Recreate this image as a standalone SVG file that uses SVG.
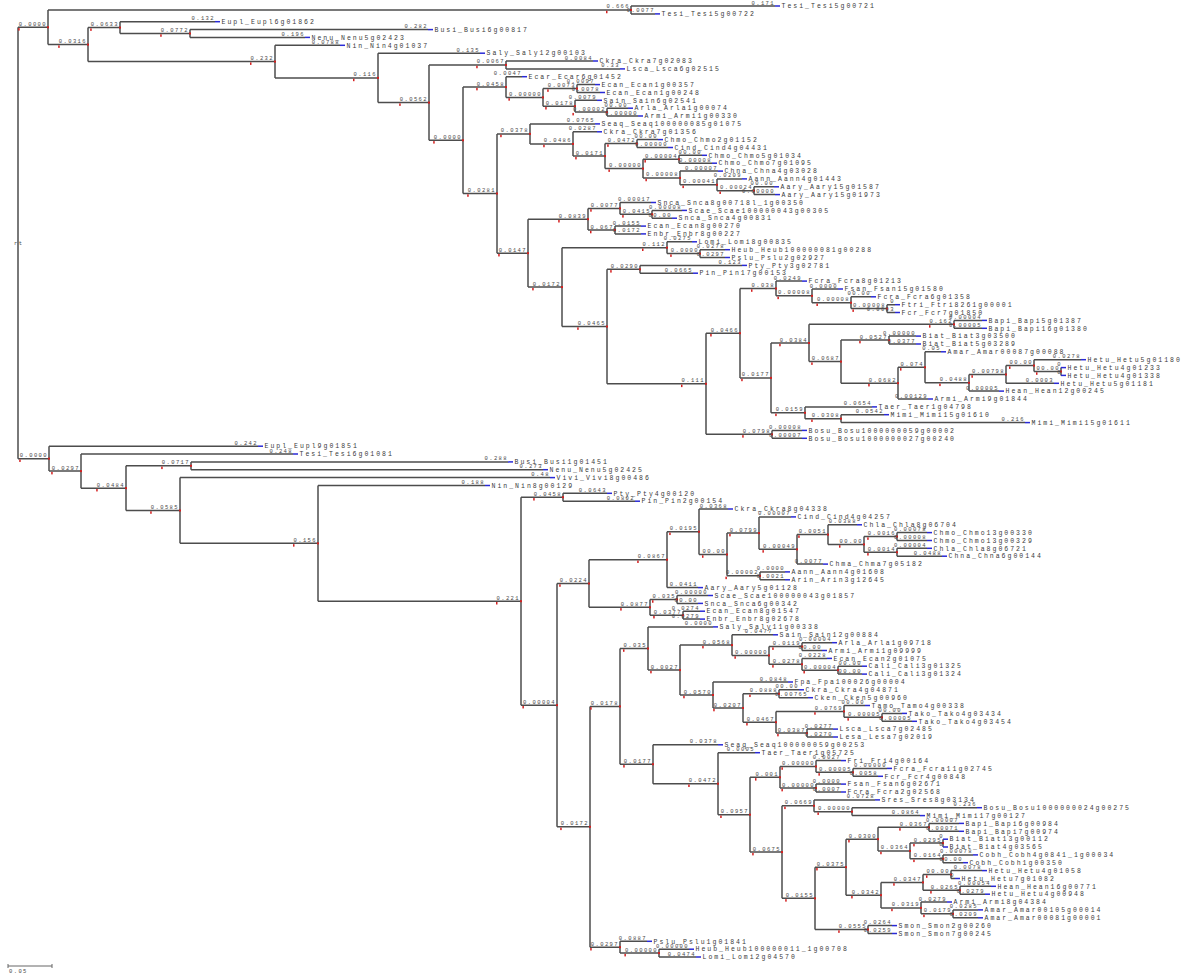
<svg xmlns="http://www.w3.org/2000/svg" width="1200" height="976" viewBox="0 0 1200 976">
<style>
.c{fill:none;stroke:#4d4d4d;stroke-width:1.5}
.tp{fill:none;stroke:#2a2ad6;stroke-width:1.5}
.lf{font-family:"Liberation Mono",monospace;font-size:6.5px;letter-spacing:2px;fill:#3a3a3a}
.bl{font-family:"Liberation Mono",monospace;font-size:5.5px;letter-spacing:1.4px;fill:#4a4a4a;text-anchor:end}
.rd{fill:#d42020;width:1.5px;height:2.5px}
.rj{fill:#d42020;width:2px;height:2px}
</style>
<rect width="1200" height="976" fill="#fff"/>
<g id="connectors" class="c">
<path d="M18 27.3V458.65M48 9.95V44.6M631 6V13.9M88 27.6V61.6M120 21.7V33.5M190 29.6V37.4M275 45.3V77.9M378 53.2V102.6M429 64.95V140.3M506 61V68.9M463 87.05V193.5M506 76.7V97.4M543 88.55V106.2M577 84.6V92.5M575 100.3V112.1M607 108.2V116M497 133.9V253.15M530 123.9V143.95M573 131.8V156.1M605 143.55V168.6M637 139.6V147.5M643 159.25V177.95M679 155.3V163.2M680 171.1V184.8M717 178.9V190.7M754 186.8V194.6M528 219.2V287.1M588 208.4V230M620 202.5V214.3M652 210.4V218.2M615 226.1V233.9M562 247.7V326.55M667 241.8V253.6M700 249.7V257.5M607 269.3V383.8M640 265.4V273.2M706 333.2V434.35M740 288.5V377.9M776 281.1V295.85M812 289V302.7M851 296.8V308.6M887 304.7V312.5M771 343V412.8M809 324.35V361.6M954 320.4V328.3M841 340.05V383.15M889 336.1V344M898 367.3V399M925 351.8V382.8M969 374.45V391.1M1006 365.6V383.3M1034 359.7V371.5M1061 367.6V375.4M805 406.9V418.65M841 414.7V422.6M772 430.4V438.3"/>
<path d="M49 446.2V471.1M81 454V488.15M126 465.8V510.5M191 461.9V469.7M180 477.6V543.35M318 485.5V601.2M521 497.25V705.15M563 493.3V501.2M557 583.5V826.8M589 559.7V607.3M667 531.75V587.6M699 509V554.5M727 533.1V575.85M759 516.9V549.35M797 534.6V564.1M828 524.8V544.4M864 536.55V552.25M897 532.6V540.5M897 548.3V556.2M760 571.9V579.8M650 599.45V615.15M677 595.5V603.4M683 611.2V619.1M590 706.4V947.2M620 648.5V764.25M648 626.9V670.05M680 645.1V695M732 634.8V655.45M769 646.6V664.3M802 642.7V650.5M802 658.4V670.15M838 666.2V674.1M713 682V708M743 693.75V722.2M779 689.8V697.7M776 711.4V733.05M844 705.5V717.35M882 713.4V721.3M807 729.1V737M653 744.8V783.7M718 752.7V814.7M750 777.3V852.1M780 766.5V788.05M816 760.6V772.35M853 768.4V776.3M816 784.1V792M782 805.8V898.35M814 799.9V811.65M852 807.7V815.6M815 867.15V929.55M846 839.15V895.15M878 827.35V850.95M929 823.4V831.3M910 843.1V858.8M943 839.2V847M943 854.9V862.7M881 882.4V907.9M923 874.55V890.25M951 870.6V878.5M960 886.3V894.2M921 902V913.85M953 909.9V917.8M868 925.6V933.5M620 941.3V953.1M659 949.2V957"/>
<path d="M18 27.3H48M48 9.95H631M48 44.6H88M88 27.6H120M120 33.5H190M88 61.6H275M275 77.9H378M378 102.6H429M429 64.95H506M429 140.3H463M463 87.05H506M506 97.4H543M543 88.55H577M543 106.2H575M575 112.1H607M463 193.5H497M497 133.9H530M530 143.95H573M573 156.1H605M605 143.55H637M605 168.6H643M643 159.25H679M643 177.95H680M680 184.8H717M717 190.7H754M497 253.15H528M528 219.2H588M588 208.4H620M620 214.3H652M588 230H615M528 287.1H562M562 247.7H667M667 253.6H700M562 326.55H607M607 269.3H640M607 383.8H706M706 333.2H740M740 288.5H776M776 295.85H812M812 302.7H851M851 308.6H887M740 377.9H771M771 343H809M809 324.35H954M809 361.6H841M841 340.05H889M841 383.15H898M898 367.3H925M925 382.8H969M969 374.45H1006M1006 365.6H1034M1034 371.5H1061M771 412.8H805M805 418.65H841M706 434.35H772"/>
<path d="M18 458.65H49M49 471.1H81M81 488.15H126M126 465.8H191M126 510.5H180M180 543.35H318M318 601.2H521M521 497.25H563M521 705.15H557M557 583.5H589M589 559.7H667M667 531.75H699M699 554.5H727M727 533.1H759M759 549.35H797M797 534.6H828M828 544.4H864M864 536.55H897M864 552.25H897M727 575.85H760M589 607.3H650M650 599.45H677M650 615.15H683M557 826.8H590M590 706.4H620M620 648.5H648M648 670.05H680M680 645.1H732M732 655.45H769M769 646.6H802M769 664.3H802M802 670.15H838M680 695H713M713 708H743M743 693.75H779M743 722.2H776M776 711.4H844M844 717.35H882M776 733.05H807M620 764.25H653M653 783.7H718M718 814.7H750M750 777.3H780M780 766.5H816M816 772.35H853M780 788.05H816M750 852.1H782M782 805.8H814M814 811.65H852M782 898.35H815M815 867.15H846M846 839.15H878M878 827.35H929M878 850.95H910M910 843.1H943M910 858.8H943M846 895.15H881M881 882.4H923M923 874.55H951M923 890.25H960M881 907.9H921M921 913.85H953M815 929.55H868M590 947.2H620M620 953.1H659"/>
<path d="M631 6H775M631 13.9H655M120 21.7H215M190 29.6H428M190 37.4H305M275 45.3H340M378 53.2H480M506 61H593M506 68.9H620M506 76.7H522M577 84.6H595M577 92.5H600M575 100.3H597M607 108.2H628M607 116H638M530 123.9H595M573 131.8H597M637 139.6H658M637 147.5H668M679 155.3H702M679 163.2H712M680 171.1H718M717 178.9H742M754 186.8H774M754 194.6H775M620 202.5H651M652 210.4H682M652 218.2H672M615 226.1H641M615 233.9H641M667 241.8H692M700 249.7H725M700 257.5H725M640 265.4H742M640 273.2H693M776 281.1H802M812 289H838M851 296.8H871M887 304.7H895M887 312.5H895M954 320.4H982M954 328.3H982M889 336.1H916M889 344H916M925 351.8H941M1034 359.7H1081M1006 383.3H1054M969 391.1H999M898 399H928M805 406.9H872M841 414.7H884M841 422.6H1025M772 430.4H802M772 438.3H802"/>
<path d="M49 446.2H258M81 454H293M191 461.9H508M191 469.7H543M180 477.6H550M318 485.5H485M563 493.3H607M563 501.2H635M699 509H728M759 516.9H791M828 524.8H857M897 532.6H927M897 540.5H927M897 548.3H927M897 556.2H942M797 564.1H823M760 571.9H785M760 579.8H785M667 587.6H698M677 595.5H708M677 603.4H698M683 611.2H700M683 619.1H700M648 626.9H713M732 634.8H773M802 642.7H832M802 650.5H822M802 658.4H827M838 666.2H862M838 674.1H862M713 682H788M779 689.8H799M779 697.7H808M844 705.5H865M882 713.4H902M882 721.3H912M807 729.1H833M807 737H833M653 744.8H718M718 752.7H755M816 760.6H841M853 768.4H887M853 776.3H878M816 784.1H841M816 792H841M814 799.9H875M852 807.7H977M852 815.6H920M929 823.4H959M929 831.3H959M943 854.9H973M943 862.7H963M951 870.6H982M951 878.5H955M960 886.3H991M960 894.2H985M921 902H947M953 909.9H978M953 917.8H978M868 925.6H892M868 933.5H892M620 941.3H647M659 949.2H689M659 957H696"/>
</g>
<g id="root"><text class="bl" x="14" y="245" style="text-anchor:start">rt</text></g>
<g id="nU"><text class="bl" x="47" y="25.8">0.0000</text><rect class="rd" x="18.2" y="28.1"/><rect class="rj" x="47" y="26.3"/></g>
<g id="nT"><text class="bl" x="630" y="8.45">0.666</text><rect class="rd" x="606" y="10.75"/><rect class="rj" x="630" y="8.95"/></g>
<g id="nA"><text class="bl" x="87" y="43.1">0.0316</text><rect class="rd" x="58.2" y="45.4"/><rect class="rj" x="87" y="43.6"/></g>
<g id="nB"><text class="bl" x="119" y="26.1">0.0633</text><rect class="rd" x="90.2" y="28.4"/><rect class="rj" x="119" y="26.6"/></g>
<g id="nD"><text class="bl" x="189" y="32">0.0772</text><rect class="rd" x="160.2" y="34.3"/><rect class="rj" x="189" y="32.5"/></g>
<g id="nC"><text class="bl" x="274" y="60.1">0.232</text><rect class="rd" x="250" y="62.4"/><rect class="rj" x="274" y="60.6"/></g>
<g id="nE"><text class="bl" x="377" y="76.4">0.116</text><rect class="rd" x="353" y="78.7"/><rect class="rj" x="377" y="76.9"/></g>
<g id="nF"><text class="bl" x="428" y="101.1">0.0562</text><rect class="rd" x="399.2" y="103.4"/><rect class="rj" x="428" y="101.6"/></g>
<g id="nG"><text class="bl" x="505" y="63.45">0.0067</text><rect class="rd" x="476.2" y="65.75"/><rect class="rj" x="505" y="63.95"/></g>
<g id="nH"><text class="bl" x="462" y="138.8">0.0000</text><rect class="rd" x="433.2" y="141.1"/><rect class="rj" x="462" y="139.3"/></g>
<g id="nI"><text class="bl" x="505" y="85.55">0.0458</text><rect class="rd" x="476.2" y="87.85"/><rect class="rj" x="505" y="86.05"/></g>
<g id="nI2"><text class="bl" x="542" y="95.9">0.00000</text><rect class="rd" x="508.4" y="98.2"/><rect class="rj" x="542" y="96.4"/></g>
<g id="nI3"><text class="bl" x="576" y="87.05">0.0073</text><rect class="rd" x="547.2" y="89.35"/><rect class="rj" x="576" y="87.55"/></g>
<g id="nI4"><text class="bl" x="574" y="104.7">0.0178</text><rect class="rd" x="545.2" y="107"/><rect class="rj" x="574" y="105.2"/></g>
<g id="nI5"><text class="bl" x="606" y="110.6">0.00002</text><rect class="rd" x="572.4" y="112.9"/><rect class="rj" x="606" y="111.1"/></g>
<g id="nJ"><text class="bl" x="496" y="192">0.0281</text><rect class="rd" x="467.2" y="194.3"/><rect class="rj" x="496" y="192.5"/></g>
<g id="nK"><text class="bl" x="529" y="132.4">0.0378</text><rect class="rd" x="500.2" y="134.7"/><rect class="rj" x="529" y="132.9"/></g>
<g id="nK2"><text class="bl" x="572" y="142.45">0.0486</text><rect class="rd" x="543.2" y="144.75"/><rect class="rj" x="572" y="142.95"/></g>
<g id="nK3"><text class="bl" x="604" y="154.6">0.0171</text><rect class="rd" x="575.2" y="156.9"/><rect class="rj" x="604" y="155.1"/></g>
<g id="nK4"><text class="bl" x="636" y="142.05">0.0472</text><rect class="rd" x="607.2" y="144.35"/><rect class="rj" x="636" y="142.55"/></g>
<g id="nK5"><text class="bl" x="642" y="167.1">0.00000</text><rect class="rd" x="608.4" y="169.4"/><rect class="rj" x="642" y="167.6"/></g>
<g id="nK6"><text class="bl" x="678" y="157.75">0.00004</text><rect class="rd" x="644.4" y="160.05"/><rect class="rj" x="678" y="158.25"/></g>
<g id="nK7"><text class="bl" x="679" y="176.45">0.00008</text><rect class="rd" x="645.4" y="178.75"/><rect class="rj" x="679" y="176.95"/></g>
<g id="nK8"><text class="bl" x="716" y="183.3">0.00041</text><rect class="rd" x="682.4" y="185.6"/><rect class="rj" x="716" y="183.8"/></g>
<g id="nK9"><text class="bl" x="753" y="189.2">0.00024</text><rect class="rd" x="719.4" y="191.5"/><rect class="rj" x="753" y="189.7"/></g>
<g id="nM"><text class="bl" x="527" y="251.65">0.0147</text><rect class="rd" x="498.2" y="253.95"/><rect class="rj" x="527" y="252.15"/></g>
<g id="nN"><text class="bl" x="587" y="217.7">0.0839</text><rect class="rd" x="558.2" y="220"/><rect class="rj" x="587" y="218.2"/></g>
<g id="nN1"><text class="bl" x="619" y="206.9">0.0077</text><rect class="rd" x="590.2" y="209.2"/><rect class="rj" x="619" y="207.4"/></g>
<g id="nN3"><text class="bl" x="651" y="212.8">0.0415</text><rect class="rd" x="622.2" y="215.1"/><rect class="rj" x="651" y="213.3"/></g>
<g id="nN2"><text class="bl" x="614" y="228.5">0.067</text><rect class="rd" x="590" y="230.8"/><rect class="rj" x="614" y="229"/></g>
<g id="nO"><text class="bl" x="561" y="285.6">0.0172</text><rect class="rd" x="532.2" y="287.9"/><rect class="rj" x="561" y="286.1"/></g>
<g id="nO1"><text class="bl" x="666" y="246.2">0.112</text><rect class="rd" x="642" y="248.5"/><rect class="rj" x="666" y="246.7"/></g>
<g id="nO2"><text class="bl" x="699" y="252.1">0.0000</text><rect class="rd" x="670.2" y="254.4"/><rect class="rj" x="699" y="252.6"/></g>
<g id="nP"><text class="bl" x="606" y="325.05">0.0465</text><rect class="rd" x="577.2" y="327.35"/><rect class="rj" x="606" y="325.55"/></g>
<g id="nP1"><text class="bl" x="639" y="267.8">0.0290</text><rect class="rd" x="610.2" y="270.1"/><rect class="rj" x="639" y="268.3"/></g>
<g id="nQ"><text class="bl" x="705" y="382.3">0.111</text><rect class="rd" x="681" y="384.6"/><rect class="rj" x="705" y="382.8"/></g>
<g id="nR"><text class="bl" x="739" y="331.7">0.0466</text><rect class="rd" x="710.2" y="334"/><rect class="rj" x="739" y="332.2"/></g>
<g id="nS"><text class="bl" x="775" y="287">0.038</text><rect class="rd" x="751" y="289.3"/><rect class="rj" x="775" y="287.5"/></g>
<g id="nT2"><text class="bl" x="811" y="294.35">0.00008</text><rect class="rd" x="777.4" y="296.65"/><rect class="rj" x="811" y="294.85"/></g>
<g id="nU2"><text class="bl" x="850" y="301.2">0.00008</text><rect class="rd" x="816.4" y="303.5"/><rect class="rj" x="850" y="301.7"/></g>
<g id="nV2"><text class="bl" x="886" y="307.1">0.00008</text><rect class="rd" x="852.4" y="309.4"/><rect class="rj" x="886" y="307.6"/></g>
<g id="nW"><text class="bl" x="770" y="376.4">0.0177</text><rect class="rd" x="741.2" y="378.7"/><rect class="rj" x="770" y="376.9"/></g>
<g id="nX"><text class="bl" x="808" y="341.5">0.0384</text><rect class="rd" x="779.2" y="343.8"/><rect class="rj" x="808" y="342"/></g>
<g id="nY"><text class="bl" x="953" y="322.85">0.162</text><rect class="rd" x="929" y="325.15"/><rect class="rj" x="953" y="323.35"/></g>
<g id="nZ"><text class="bl" x="840" y="360.1">0.0687</text><rect class="rd" x="811.2" y="362.4"/><rect class="rj" x="840" y="360.6"/></g>
<g id="nZ1"><text class="bl" x="888" y="338.55">0.0527</text><rect class="rd" x="859.2" y="340.85"/><rect class="rj" x="888" y="339.05"/></g>
<g id="nAA"><text class="bl" x="897" y="381.65">0.0682</text><rect class="rd" x="868.2" y="383.95"/><rect class="rj" x="897" y="382.15"/></g>
<g id="nAB"><text class="bl" x="924" y="365.8">0.074</text><rect class="rd" x="900" y="368.1"/><rect class="rj" x="924" y="366.3"/></g>
<g id="nAC"><text class="bl" x="968" y="381.3">0.0488</text><rect class="rd" x="939.2" y="383.6"/><rect class="rj" x="968" y="381.8"/></g>
<g id="nAD"><text class="bl" x="1005" y="372.95">0.00798</text><rect class="rd" x="971.4" y="375.25"/><rect class="rj" x="1005" y="373.45"/></g>
<g id="nAE"><text class="bl" x="1033" y="364.1">00.00</text><rect class="rd" x="1009" y="366.4"/><rect class="rj" x="1033" y="364.6"/></g>
<g id="nAF"><text class="bl" x="1060" y="370">00.00</text><rect class="rd" x="1036" y="372.3"/><rect class="rj" x="1060" y="370.5"/></g>
<g id="nWW"><text class="bl" x="804" y="411.3">0.0159</text><rect class="rd" x="775.2" y="413.6"/><rect class="rj" x="804" y="411.8"/></g>
<g id="nWX"><text class="bl" x="840" y="417.15">0.0308</text><rect class="rd" x="811.2" y="419.45"/><rect class="rj" x="840" y="417.65"/></g>
<g id="nBO"><text class="bl" x="771" y="432.85">0.0798</text><rect class="rd" x="742.2" y="435.15"/><rect class="rj" x="771" y="433.35"/></g>
<g id="nL"><text class="bl" x="48" y="457.15">0.0000</text><rect class="rd" x="19.2" y="459.45"/><rect class="rj" x="48" y="457.65"/></g>
<g id="nL1"><text class="bl" x="80" y="469.6">0.0297</text><rect class="rd" x="51.2" y="471.9"/><rect class="rj" x="80" y="470.1"/></g>
<g id="nL2"><text class="bl" x="125" y="486.65">0.0484</text><rect class="rd" x="96.2" y="488.95"/><rect class="rj" x="125" y="487.15"/></g>
<g id="nL3"><text class="bl" x="190" y="464.3">0.0717</text><rect class="rd" x="161.2" y="466.6"/><rect class="rj" x="190" y="464.8"/></g>
<g id="nL4"><text class="bl" x="179" y="509">0.0585</text><rect class="rd" x="150.2" y="511.3"/><rect class="rj" x="179" y="509.5"/></g>
<g id="nL5"><text class="bl" x="317" y="541.85">0.156</text><rect class="rd" x="293" y="544.15"/><rect class="rj" x="317" y="542.35"/></g>
<g id="nL6"><text class="bl" x="520" y="599.7">0.221</text><rect class="rd" x="496" y="602"/><rect class="rj" x="520" y="600.2"/></g>
<g id="nL7"><text class="bl" x="562" y="495.75">0.0458</text><rect class="rd" x="533.2" y="498.05"/><rect class="rj" x="562" y="496.25"/></g>
<g id="nL8"><text class="bl" x="556" y="703.65">0.00004</text><rect class="rd" x="522.4" y="705.95"/><rect class="rj" x="556" y="704.15"/></g>
<g id="nM1"><text class="bl" x="588" y="582">0.0224</text><rect class="rd" x="559.2" y="584.3"/><rect class="rj" x="588" y="582.5"/></g>
<g id="nM3"><text class="bl" x="666" y="558.2">0.0867</text><rect class="rd" x="637.2" y="560.5"/><rect class="rj" x="666" y="558.7"/></g>
<g id="nM5"><text class="bl" x="698" y="530.25">0.0195</text><rect class="rd" x="669.2" y="532.55"/><rect class="rj" x="698" y="530.75"/></g>
<g id="nM6"><text class="bl" x="726" y="553">00.00</text><rect class="rd" x="702" y="555.3"/><rect class="rj" x="726" y="553.5"/></g>
<g id="nM7"><text class="bl" x="758" y="531.6">0.0799</text><rect class="rd" x="729.2" y="533.9"/><rect class="rj" x="758" y="532.1"/></g>
<g id="nM9"><text class="bl" x="796" y="547.85">0.00049</text><rect class="rd" x="762.4" y="550.15"/><rect class="rj" x="796" y="548.35"/></g>
<g id="nM10"><text class="bl" x="827" y="533.1">0.0051</text><rect class="rd" x="798.2" y="535.4"/><rect class="rj" x="827" y="533.6"/></g>
<g id="nM11"><text class="bl" x="863" y="542.9">00.00</text><rect class="rd" x="839" y="545.2"/><rect class="rj" x="863" y="543.4"/></g>
<g id="nM12"><text class="bl" x="896" y="535.05">0.0016</text><rect class="rd" x="867.2" y="537.35"/><rect class="rj" x="896" y="535.55"/></g>
<g id="nM13"><text class="bl" x="896" y="550.75">0.0014</text><rect class="rd" x="867.2" y="553.05"/><rect class="rj" x="896" y="551.25"/></g>
<g id="nM8"><text class="bl" x="759" y="574.35">0.00002</text><rect class="rd" x="725.4" y="576.65"/><rect class="rj" x="759" y="574.85"/></g>
<g id="nM4"><text class="bl" x="649" y="605.8">0.0877</text><rect class="rd" x="620.2" y="608.1"/><rect class="rj" x="649" y="606.3"/></g>
<g id="nM14"><text class="bl" x="676" y="597.95">0.035</text><rect class="rd" x="652" y="600.25"/><rect class="rj" x="676" y="598.45"/></g>
<g id="nM15"><text class="bl" x="682" y="613.65">0.0377</text><rect class="rd" x="653.2" y="615.95"/><rect class="rj" x="682" y="614.15"/></g>
<g id="nM2"><text class="bl" x="589" y="825.3">0.0172</text><rect class="rd" x="560.2" y="827.6"/><rect class="rj" x="589" y="825.8"/></g>
<g id="nM16"><text class="bl" x="619" y="704.9">0.0178</text><rect class="rd" x="590.2" y="707.2"/><rect class="rj" x="619" y="705.4"/></g>
<g id="nM18"><text class="bl" x="647" y="647">0.035</text><rect class="rd" x="623" y="649.3"/><rect class="rj" x="647" y="647.5"/></g>
<g id="nM20"><text class="bl" x="679" y="668.55">0.0027</text><rect class="rd" x="650.2" y="670.85"/><rect class="rj" x="679" y="669.05"/></g>
<g id="nM21"><text class="bl" x="731" y="643.6">0.0568</text><rect class="rd" x="702.2" y="645.9"/><rect class="rj" x="731" y="644.1"/></g>
<g id="nM23"><text class="bl" x="768" y="653.95">0.00000</text><rect class="rd" x="734.4" y="656.25"/><rect class="rj" x="768" y="654.45"/></g>
<g id="nM24"><text class="bl" x="801" y="645.1">0.0119</text><rect class="rd" x="772.2" y="647.4"/><rect class="rj" x="801" y="645.6"/></g>
<g id="nM25"><text class="bl" x="801" y="662.8">0.0278</text><rect class="rd" x="772.2" y="665.1"/><rect class="rj" x="801" y="663.3"/></g>
<g id="nM26"><text class="bl" x="837" y="668.65">0.00004</text><rect class="rd" x="803.4" y="670.95"/><rect class="rj" x="837" y="669.15"/></g>
<g id="nM22"><text class="bl" x="712" y="693.5">0.0570</text><rect class="rd" x="683.2" y="695.8"/><rect class="rj" x="712" y="694"/></g>
<g id="nM27"><text class="bl" x="742" y="706.5">0.0207</text><rect class="rd" x="713.2" y="708.8"/><rect class="rj" x="742" y="707"/></g>
<g id="nM28"><text class="bl" x="778" y="692.25">0.0888</text><rect class="rd" x="749.2" y="694.55"/><rect class="rj" x="778" y="692.75"/></g>
<g id="nM29"><text class="bl" x="775" y="720.7">0.0467</text><rect class="rd" x="746.2" y="723"/><rect class="rj" x="775" y="721.2"/></g>
<g id="nM30"><text class="bl" x="843" y="709.9">0.0769</text><rect class="rd" x="814.2" y="712.2"/><rect class="rj" x="843" y="710.4"/></g>
<g id="nM32"><text class="bl" x="881" y="715.85">0.00005</text><rect class="rd" x="847.4" y="718.15"/><rect class="rj" x="881" y="716.35"/></g>
<g id="nM31"><text class="bl" x="806" y="731.55">0.0387</text><rect class="rd" x="777.2" y="733.85"/><rect class="rj" x="806" y="732.05"/></g>
<g id="nM19"><text class="bl" x="652" y="762.75">0.0177</text><rect class="rd" x="623.2" y="765.05"/><rect class="rj" x="652" y="763.25"/></g>
<g id="nM33"><text class="bl" x="717" y="782.2">0.0472</text><rect class="rd" x="688.2" y="784.5"/><rect class="rj" x="717" y="782.7"/></g>
<g id="nM34"><text class="bl" x="749" y="813.2">0.0957</text><rect class="rd" x="720.2" y="815.5"/><rect class="rj" x="749" y="813.7"/></g>
<g id="nM35"><text class="bl" x="779" y="775.8">0.001</text><rect class="rd" x="755" y="778.1"/><rect class="rj" x="779" y="776.3"/></g>
<g id="nM37"><text class="bl" x="815" y="765">0.00000</text><rect class="rd" x="781.4" y="767.3"/><rect class="rj" x="815" y="765.5"/></g>
<g id="nM39"><text class="bl" x="852" y="770.85">0.00005</text><rect class="rd" x="818.4" y="773.15"/><rect class="rj" x="852" y="771.35"/></g>
<g id="nM38"><text class="bl" x="815" y="786.55">0.00000</text><rect class="rd" x="781.4" y="788.85"/><rect class="rj" x="815" y="787.05"/></g>
<g id="nM36"><text class="bl" x="781" y="850.6">0.0675</text><rect class="rd" x="752.2" y="852.9"/><rect class="rj" x="781" y="851.1"/></g>
<g id="nM40"><text class="bl" x="813" y="804.3">0.0669</text><rect class="rd" x="784.2" y="806.6"/><rect class="rj" x="813" y="804.8"/></g>
<g id="nM42"><text class="bl" x="851" y="810.15">0.00000</text><rect class="rd" x="817.4" y="812.45"/><rect class="rj" x="851" y="810.65"/></g>
<g id="nM41"><text class="bl" x="814" y="896.85">0.0155</text><rect class="rd" x="785.2" y="899.15"/><rect class="rj" x="814" y="897.35"/></g>
<g id="nM43"><text class="bl" x="845" y="865.65">0.0375</text><rect class="rd" x="816.2" y="867.95"/><rect class="rj" x="845" y="866.15"/></g>
<g id="nM45"><text class="bl" x="877" y="837.65">0.0300</text><rect class="rd" x="848.2" y="839.95"/><rect class="rj" x="877" y="838.15"/></g>
<g id="nM47"><text class="bl" x="928" y="825.85">0.0367</text><rect class="rd" x="899.2" y="828.15"/><rect class="rj" x="928" y="826.35"/></g>
<g id="nM48"><text class="bl" x="909" y="849.45">0.0364</text><rect class="rd" x="880.2" y="851.75"/><rect class="rj" x="909" y="849.95"/></g>
<g id="nM49"><text class="bl" x="942" y="841.6">0.0295</text><rect class="rd" x="913.2" y="843.9"/><rect class="rj" x="942" y="842.1"/></g>
<g id="nM50"><text class="bl" x="942" y="857.3">0.0164</text><rect class="rd" x="913.2" y="859.6"/><rect class="rj" x="942" y="857.8"/></g>
<g id="nM46"><text class="bl" x="880" y="893.65">0.0342</text><rect class="rd" x="851.2" y="895.95"/><rect class="rj" x="880" y="894.15"/></g>
<g id="nM51"><text class="bl" x="922" y="880.9">0.0347</text><rect class="rd" x="893.2" y="883.2"/><rect class="rj" x="922" y="881.4"/></g>
<g id="nM53"><text class="bl" x="950" y="873.05">00.00</text><rect class="rd" x="926" y="875.35"/><rect class="rj" x="950" y="873.55"/></g>
<g id="nM54"><text class="bl" x="959" y="888.75">0.0265</text><rect class="rd" x="930.2" y="891.05"/><rect class="rj" x="959" y="889.25"/></g>
<g id="nM52"><text class="bl" x="920" y="906.4">0.0319</text><rect class="rd" x="891.2" y="908.7"/><rect class="rj" x="920" y="906.9"/></g>
<g id="nM55"><text class="bl" x="952" y="912.35">0.0179</text><rect class="rd" x="923.2" y="914.65"/><rect class="rj" x="952" y="912.85"/></g>
<g id="nM44"><text class="bl" x="867" y="928.05">0.0555</text><rect class="rd" x="838.2" y="930.35"/><rect class="rj" x="867" y="928.55"/></g>
<g id="nM17"><text class="bl" x="619" y="945.7">0.0297</text><rect class="rd" x="590.2" y="948"/><rect class="rj" x="619" y="946.2"/></g>
<g id="nM56"><text class="bl" x="658" y="951.6">0.00000</text><rect class="rd" x="624.4" y="953.9"/><rect class="rj" x="658" y="952.1"/></g>
<g id="k0"><path class="tp" d="M775 6H780"/><text class="bl" x="775" y="4.5">0.171</text><text class="lf" x="781.5" y="8.2">Tesi_Tesi5g00721</text></g>
<g id="k1"><path class="tp" d="M655 13.9H660"/><text class="bl" x="655" y="12.4">0.0077</text><text class="lf" x="661.5" y="16.1">Tesi_Tesi5g00722</text></g>
<g id="k2"><path class="tp" d="M215 21.7H220"/><text class="bl" x="215" y="20.2">0.132</text><text class="lf" x="221.5" y="23.9">Eupl_Eupl6g01862</text></g>
<g id="k3"><path class="tp" d="M428 29.6H433"/><text class="bl" x="428" y="28.1">0.282</text><text class="lf" x="434.5" y="31.8">Busi_Busi6g00817</text></g>
<g id="k4"><path class="tp" d="M305 37.4H310"/><text class="bl" x="305" y="35.9">0.196</text><text class="lf" x="311.5" y="39.6">Nenu_Nenu5g02423</text></g>
<g id="k5"><path class="tp" d="M340 45.3H345"/><text class="bl" x="340" y="43.8">0.0788</text><text class="lf" x="346.5" y="47.5">Nin_Nin4g01037</text></g>
<g id="k6"><path class="tp" d="M480 53.2H485"/><text class="bl" x="480" y="51.7">0.135</text><text class="lf" x="486.5" y="55.4">Saly_Saly12g00103</text></g>
<g id="k7"><path class="tp" d="M593 61H598"/><text class="bl" x="593" y="59.5">0.0084</text><text class="lf" x="599.5" y="63.2">Ckra_Ckra7g02083</text></g>
<g id="k8"><path class="tp" d="M620 68.9H625"/><text class="bl" x="620" y="67.4">0.33</text><text class="lf" x="626.5" y="71.1">Lsca_Lsca6g02515</text></g>
<g id="k9"><path class="tp" d="M522 76.7H527"/><text class="bl" x="522" y="75.2">0.0047</text><text class="lf" x="528.5" y="78.9">Ecar_Ecar6g01452</text></g>
<g id="k10"><path class="tp" d="M595 84.6H600"/><text class="bl" x="595" y="83.1">0.0097</text><text class="lf" x="601.5" y="86.8">Ecan_Ecan1g00357</text></g>
<g id="k11"><path class="tp" d="M600 92.5H605"/><text class="bl" x="600" y="91">0.0078</text><text class="lf" x="606.5" y="94.7">Ecan_Ecan1g00248</text></g>
<g id="k12"><path class="tp" d="M597 100.3H602"/><text class="bl" x="597" y="98.8">0.0079</text><text class="lf" x="603.5" y="102.5">Sain_Sain6g02541</text></g>
<g id="k13"><path class="tp" d="M628 108.2H633"/><text class="bl" x="628" y="106.7">00.00</text><text class="lf" x="634.5" y="110.4">Arla_Arla1g00074</text></g>
<g id="k14"><path class="tp" d="M638 116H643"/><text class="bl" x="638" y="114.5">0.00000</text><text class="lf" x="644.5" y="118.2">Armi_Armi1g00330</text></g>
<g id="k15"><path class="tp" d="M595 123.9H600"/><text class="bl" x="595" y="122.4">0.0765</text><text class="lf" x="601.5" y="126.1">Seaq_Seaq100000085g01075</text></g>
<g id="k16"><path class="tp" d="M597 131.8H602"/><text class="bl" x="597" y="130.3">0.0287</text><text class="lf" x="603.5" y="134">Ckra_Ckra7g01356</text></g>
<g id="k17"><path class="tp" d="M658 139.6H663"/><text class="bl" x="658" y="138.1">00.00</text><text class="lf" x="664.5" y="141.8">Chmo_Chmo2g01152</text></g>
<g id="k18"><path class="tp" d="M668 147.5H673"/><text class="bl" x="668" y="146">0.00000</text><text class="lf" x="674.5" y="149.7">Cind_Cind4g04431</text></g>
<g id="k19"><path class="tp" d="M702 155.3H707"/><text class="bl" x="702" y="153.8">00.00</text><text class="lf" x="708.5" y="157.5">Chmo_Chmo5g01034</text></g>
<g id="k20"><path class="tp" d="M712 163.2H717"/><text class="bl" x="712" y="161.7">0.00008</text><text class="lf" x="718.5" y="165.4">Chmo_Chmo7g01095</text></g>
<g id="k21"><path class="tp" d="M718 171.1H723"/><text class="bl" x="718" y="169.6">0.00007</text><text class="lf" x="724.5" y="173.3">Chna_Chna4g03028</text></g>
<g id="k22"><path class="tp" d="M742 178.9H747"/><text class="bl" x="742" y="177.4">0.0209</text><text class="lf" x="748.5" y="181.1">Aann_Aann4g01443</text></g>
<g id="k23"><path class="tp" d="M774 186.8H779"/><text class="bl" x="774" y="185.3">00.00</text><text class="lf" x="780.5" y="189">Aary_Aary15g01587</text></g>
<g id="k24"><path class="tp" d="M775 194.6H780"/><text class="bl" x="775" y="193.1">0.00000</text><text class="lf" x="781.5" y="196.8">Aary_Aary15g01973</text></g>
<g id="k25"><path class="tp" d="M651 202.5H656"/><text class="bl" x="651" y="201">0.00017</text><text class="lf" x="657.5" y="204.7">Snca_Snca8g00718l_1g00350</text></g>
<g id="k26"><path class="tp" d="M682 210.4H687"/><text class="bl" x="682" y="208.9">0.00008</text><text class="lf" x="688.5" y="212.6">Scae_Scae100000043g00305</text></g>
<g id="k27"><path class="tp" d="M672 218.2H677"/><text class="bl" x="672" y="216.7">00.00</text><text class="lf" x="678.5" y="220.4">Snca_Snca4g00831</text></g>
<g id="k28"><path class="tp" d="M641 226.1H646"/><text class="bl" x="641" y="224.6">0.0155</text><text class="lf" x="647.5" y="228.3">Ecan_Ecan8g00270</text></g>
<g id="k29"><path class="tp" d="M641 233.9H646"/><text class="bl" x="641" y="232.4">0.0172</text><text class="lf" x="647.5" y="236.1">Enbr_Enbr8g00227</text></g>
<g id="k30"><path class="tp" d="M692 241.8H697"/><text class="bl" x="692" y="240.3">0.0275</text><text class="lf" x="698.5" y="244">Lomi_Lomi8g00835</text></g>
<g id="k31"><path class="tp" d="M725 249.7H730"/><text class="bl" x="725" y="248.2">0.0278</text><text class="lf" x="731.5" y="251.9">Heub_Heub100000081g00288</text></g>
<g id="k32"><path class="tp" d="M725 257.5H730"/><text class="bl" x="725" y="256">0.0297</text><text class="lf" x="731.5" y="259.7">Pslu_Pslu2g02927</text></g>
<g id="k33"><path class="tp" d="M742 265.4H747"/><text class="bl" x="742" y="263.9">0.123</text><text class="lf" x="748.5" y="267.6">Pty_Pty3g02781</text></g>
<g id="k34"><path class="tp" d="M693 273.2H698"/><text class="bl" x="693" y="271.7">0.0665</text><text class="lf" x="699.5" y="275.4">Pin_Pin17g00153</text></g>
<g id="k35"><path class="tp" d="M802 281.1H807"/><text class="bl" x="802" y="279.6">0.0249</text><text class="lf" x="808.5" y="283.3">Fcra_Fcra8g01213</text></g>
<g id="k36"><path class="tp" d="M838 289H843"/><text class="bl" x="838" y="287.5">0.0000</text><text class="lf" x="844.5" y="291.2">Fsan_Fsan15g01580</text></g>
<g id="k37"><path class="tp" d="M871 296.8H876"/><text class="bl" x="871" y="295.3">00.00</text><text class="lf" x="877.5" y="299">Fcra_Fcra6g01358</text></g>
<g id="k38"><path class="tp" d="M895 304.7H900"/><text class="bl" x="895" y="303.2">0</text><text class="lf" x="901.5" y="306.9">Ftri_Ftri8261g00001</text></g>
<g id="k39"><path class="tp" d="M895 312.5H900"/><text class="bl" x="895" y="311">0.0003</text><text class="lf" x="901.5" y="314.7">Fcr_Fcr7g01850</text></g>
<g id="k40"><path class="tp" d="M982 320.4H987"/><text class="bl" x="982" y="318.9">0.00004</text><text class="lf" x="988.5" y="322.6">Bapi_Bapi5g01387</text></g>
<g id="k41"><path class="tp" d="M982 328.3H987"/><text class="bl" x="982" y="326.8">0.00005</text><text class="lf" x="988.5" y="330.5">Bapi_Bapi16g01380</text></g>
<g id="k42"><path class="tp" d="M916 336.1H921"/><text class="bl" x="916" y="334.6">0.00000</text><text class="lf" x="922.5" y="338.3">Biat_Biat3g03500</text></g>
<g id="k43"><path class="tp" d="M916 344H921"/><text class="bl" x="916" y="342.5">0.0377</text><text class="lf" x="922.5" y="346.2">Biat_Biat5g03289</text></g>
<g id="k44"><path class="tp" d="M941 351.8H946"/><text class="bl" x="941" y="350.3">0.05</text><text class="lf" x="947.5" y="354">Amar_Amar00087g00088</text></g>
<g id="k45"><path class="tp" d="M1081 359.7H1086"/><text class="bl" x="1081" y="358.2">0.0278</text><text class="lf" x="1087.5" y="361.9">Hetu_Hetu5g01180</text></g>
<g id="k46"><path class="tp" d="M1061 367.6H1066"/><text class="bl" x="1062" y="366.1">0</text><text class="lf" x="1067.5" y="369.8">Hetu_Hetu4g01233</text></g>
<g id="k47"><path class="tp" d="M1061 375.4H1066"/><text class="bl" x="1062" y="373.9">0</text><text class="lf" x="1067.5" y="377.6">Hetu_Hetu4g01338</text></g>
<g id="k48"><path class="tp" d="M1054 383.3H1059"/><text class="bl" x="1054" y="381.8">0.0003</text><text class="lf" x="1060.5" y="385.5">Hetu_Hetu5g01181</text></g>
<g id="k49"><path class="tp" d="M999 391.1H1004"/><text class="bl" x="999" y="389.6">0.00005</text><text class="lf" x="1005.5" y="393.3">Hean_Hean12g00245</text></g>
<g id="k50"><path class="tp" d="M928 399H933"/><text class="bl" x="928" y="397.5">0.00129</text><text class="lf" x="934.5" y="401.2">Armi_Armi9g01844</text></g>
<g id="k51"><path class="tp" d="M872 406.9H877"/><text class="bl" x="872" y="405.4">0.0654</text><text class="lf" x="878.5" y="409.1">Taer_Taer1g04798</text></g>
<g id="k52"><path class="tp" d="M884 414.7H889"/><text class="bl" x="884" y="413.2">0.0542</text><text class="lf" x="890.5" y="416.9">Mimi_Mimi15g01610</text></g>
<g id="k53"><path class="tp" d="M1025 422.6H1030"/><text class="bl" x="1025" y="421.1">0.216</text><text class="lf" x="1031.5" y="424.8">Mimi_Mimi15g01611</text></g>
<g id="k54"><path class="tp" d="M802 430.4H807"/><text class="bl" x="802" y="428.9">0.00008</text><text class="lf" x="808.5" y="432.6">Bosu_Bosu1000000059g00002</text></g>
<g id="k55"><path class="tp" d="M802 438.3H807"/><text class="bl" x="802" y="436.8">0.00007</text><text class="lf" x="808.5" y="440.5">Bosu_Bosu1000000027g00240</text></g>
<g id="k56"><path class="tp" d="M258 446.2H263"/><text class="bl" x="258" y="444.7">0.242</text><text class="lf" x="264.5" y="448.4">Eupl_Eupl9g01851</text></g>
<g id="k57"><path class="tp" d="M293 454H298"/><text class="bl" x="293" y="452.5">0.248</text><text class="lf" x="299.5" y="456.2">Tesi_Tesi6g01081</text></g>
<g id="k58"><path class="tp" d="M508 461.9H513"/><text class="bl" x="508" y="460.4">0.288</text><text class="lf" x="514.5" y="464.1">Busi_Busi1g01451</text></g>
<g id="k59"><path class="tp" d="M543 469.7H548"/><text class="bl" x="543" y="468.2">0.273</text><text class="lf" x="549.5" y="471.9">Nenu_Nenu5g02425</text></g>
<g id="k60"><path class="tp" d="M550 477.6H555"/><text class="bl" x="550" y="476.1">0.48</text><text class="lf" x="556.5" y="479.8">Vivi_Vivi8g00486</text></g>
<g id="k61"><path class="tp" d="M485 485.5H490"/><text class="bl" x="485" y="484">0.188</text><text class="lf" x="491.5" y="487.7">Nin_Nin8g00129</text></g>
<g id="k62"><path class="tp" d="M607 493.3H612"/><text class="bl" x="607" y="491.8">0.0643</text><text class="lf" x="613.5" y="495.5">Pty_Pty4g00120</text></g>
<g id="k63"><path class="tp" d="M635 501.2H640"/><text class="bl" x="635" y="499.7">0.0802</text><text class="lf" x="641.5" y="503.4">Pin_Pin2g00154</text></g>
<g id="k64"><path class="tp" d="M728 509H733"/><text class="bl" x="728" y="507.5">0.0368</text><text class="lf" x="734.5" y="511.2">Ckra_Ckra8g04338</text></g>
<g id="k65"><path class="tp" d="M791 516.9H796"/><text class="bl" x="791" y="515.4">0.00007</text><text class="lf" x="797.5" y="519.1">Cind_Cind4g04257</text></g>
<g id="k66"><path class="tp" d="M857 524.8H862"/><text class="bl" x="857" y="523.3">0.0388</text><text class="lf" x="863.5" y="527">Chla_Chla8g06704</text></g>
<g id="k67"><path class="tp" d="M927 532.6H932"/><text class="bl" x="927" y="531.1">0.00078</text><text class="lf" x="933.5" y="534.8">Chmo_Chmo13g00330</text></g>
<g id="k68"><path class="tp" d="M927 540.5H932"/><text class="bl" x="927" y="539">0.00008</text><text class="lf" x="933.5" y="542.7">Chmo_Chmo13g00329</text></g>
<g id="k69"><path class="tp" d="M927 548.3H932"/><text class="bl" x="927" y="546.8">0.00004</text><text class="lf" x="933.5" y="550.5">Chla_Chla8g06721</text></g>
<g id="k70"><path class="tp" d="M942 556.2H947"/><text class="bl" x="942" y="554.7">0.0488</text><text class="lf" x="948.5" y="558.4">Chna_Chna6g00144</text></g>
<g id="k71"><path class="tp" d="M823 564.1H828"/><text class="bl" x="823" y="562.6">0.0077</text><text class="lf" x="829.5" y="566.3">Chma_Chma7g05182</text></g>
<g id="k72"><path class="tp" d="M785 571.9H790"/><text class="bl" x="785" y="570.4">0.0000</text><text class="lf" x="791.5" y="574.1">Aann_Aann4g01608</text></g>
<g id="k73"><path class="tp" d="M785 579.8H790"/><text class="bl" x="785" y="578.3">0.0021</text><text class="lf" x="791.5" y="582">Arin_Arin3g12645</text></g>
<g id="k74"><path class="tp" d="M698 587.6H703"/><text class="bl" x="698" y="586.1">0.0411</text><text class="lf" x="704.5" y="589.8">Aary_Aary5g01128</text></g>
<g id="k75"><path class="tp" d="M708 595.5H713"/><text class="bl" x="708" y="594">0.00000</text><text class="lf" x="714.5" y="597.7">Scae_Scae100000043g01857</text></g>
<g id="k76"><path class="tp" d="M698 603.4H703"/><text class="bl" x="698" y="601.9">00.00</text><text class="lf" x="704.5" y="605.6">Snca_Snca6g00342</text></g>
<g id="k77"><path class="tp" d="M700 611.2H705"/><text class="bl" x="700" y="609.7">0.0274</text><text class="lf" x="706.5" y="613.4">Ecan_Ecan8g01547</text></g>
<g id="k78"><path class="tp" d="M700 619.1H705"/><text class="bl" x="700" y="617.6">0.0279</text><text class="lf" x="706.5" y="621.3">Enbr_Enbr8g02678</text></g>
<g id="k79"><path class="tp" d="M713 626.9H718"/><text class="bl" x="713" y="625.4">0.0000</text><text class="lf" x="719.5" y="629.1">Saly_Saly11g00338</text></g>
<g id="k80"><path class="tp" d="M773 634.8H778"/><text class="bl" x="773" y="633.3">0.0477</text><text class="lf" x="779.5" y="637">Sain_Sain12g00884</text></g>
<g id="k81"><path class="tp" d="M832 642.7H837"/><text class="bl" x="832" y="641.2">0.00004</text><text class="lf" x="838.5" y="644.9">Arla_Arla1g09718</text></g>
<g id="k82"><path class="tp" d="M822 650.5H827"/><text class="bl" x="822" y="649">00.00</text><text class="lf" x="828.5" y="652.7">Armi_Armi1g09999</text></g>
<g id="k83"><path class="tp" d="M827 658.4H832"/><text class="bl" x="827" y="656.9">0.0228</text><text class="lf" x="833.5" y="660.6">Ecan_Ecan2g01075</text></g>
<g id="k84"><path class="tp" d="M862 666.2H867"/><text class="bl" x="862" y="664.7">00.00</text><text class="lf" x="868.5" y="668.4">Cali_Cali3g01325</text></g>
<g id="k85"><path class="tp" d="M862 674.1H867"/><text class="bl" x="862" y="672.6">00.00</text><text class="lf" x="868.5" y="676.3">Cali_Cali3g01324</text></g>
<g id="k86"><path class="tp" d="M788 682H793"/><text class="bl" x="788" y="680.5">0.0848</text><text class="lf" x="794.5" y="684.2">Fpa_Fpa100026g00004</text></g>
<g id="k87"><path class="tp" d="M799 689.8H804"/><text class="bl" x="799" y="688.3">00.00</text><text class="lf" x="805.5" y="692">Ckra_Ckra4g04871</text></g>
<g id="k88"><path class="tp" d="M808 697.7H813"/><text class="bl" x="808" y="696.2">0.00765</text><text class="lf" x="814.5" y="699.9">Cken_Cken5g00960</text></g>
<g id="k89"><path class="tp" d="M865 705.5H870"/><text class="bl" x="865" y="704">00.00</text><text class="lf" x="871.5" y="707.7">Tamo_Tamo4g00338</text></g>
<g id="k90"><path class="tp" d="M902 713.4H907"/><text class="bl" x="902" y="711.9">00.00</text><text class="lf" x="908.5" y="715.6">Tako_Tako4g03434</text></g>
<g id="k91"><path class="tp" d="M912 721.3H917"/><text class="bl" x="912" y="719.8">0.00005</text><text class="lf" x="918.5" y="723.5">Tako_Tako4g03454</text></g>
<g id="k92"><path class="tp" d="M833 729.1H838"/><text class="bl" x="833" y="727.6">0.0277</text><text class="lf" x="839.5" y="731.3">Lsca_Lsca7g02485</text></g>
<g id="k93"><path class="tp" d="M833 737H838"/><text class="bl" x="833" y="735.5">0.0270</text><text class="lf" x="839.5" y="739.2">Lesa_Lesa7g02019</text></g>
<g id="k94"><path class="tp" d="M718 744.8H723"/><text class="bl" x="718" y="743.3">0.0378</text><text class="lf" x="724.5" y="747">Seaq_Seaq100000059g00253</text></g>
<g id="k95"><path class="tp" d="M755 752.7H760"/><text class="bl" x="755" y="751.2">0.0005</text><text class="lf" x="761.5" y="754.9">Taer_Taer1g05725</text></g>
<g id="k96"><path class="tp" d="M841 760.6H846"/><text class="bl" x="841" y="759.1">0.0027</text><text class="lf" x="847.5" y="762.8">Fri_Fri4g00164</text></g>
<g id="k97"><path class="tp" d="M887 768.4H892"/><text class="bl" x="887" y="766.9">0.00000</text><text class="lf" x="893.5" y="770.6">Fcra_Fcra11g02745</text></g>
<g id="k98"><path class="tp" d="M878 776.3H883"/><text class="bl" x="878" y="774.8">0.0058</text><text class="lf" x="884.5" y="778.5">Fcr_Fcr4g00848</text></g>
<g id="k99"><path class="tp" d="M841 784.1H846"/><text class="bl" x="841" y="782.6">0.0000</text><text class="lf" x="847.5" y="786.3">Fsan_Fsan6g02671</text></g>
<g id="k100"><path class="tp" d="M841 792H846"/><text class="bl" x="841" y="790.5">0.0007</text><text class="lf" x="847.5" y="794.2">Fcra_Fcra2g02568</text></g>
<g id="k101"><path class="tp" d="M875 799.9H880"/><text class="bl" x="875" y="798.4">0.0728</text><text class="lf" x="881.5" y="802.1">Sres_Sres8g03134</text></g>
<g id="k102"><path class="tp" d="M977 807.7H982"/><text class="bl" x="977" y="806.2">0.236</text><text class="lf" x="983.5" y="809.9">Bosu_Bosu1000000024g00275</text></g>
<g id="k103"><path class="tp" d="M920 815.6H925"/><text class="bl" x="920" y="814.1">0.0864</text><text class="lf" x="926.5" y="817.8">Mimi_Mimi17g00127</text></g>
<g id="k104"><path class="tp" d="M959 823.4H964"/><text class="bl" x="959" y="821.9">0.00007</text><text class="lf" x="965.5" y="825.6">Bapi_Bapi6g00984</text></g>
<g id="k105"><path class="tp" d="M959 831.3H964"/><text class="bl" x="959" y="829.8">0.00071</text><text class="lf" x="965.5" y="833.5">Bapi_Bapi7g00974</text></g>
<g id="k106"><path class="tp" d="M943 839.2H948"/><text class="bl" x="944" y="837.7">0</text><text class="lf" x="949.5" y="841.4">Biat_Biat13g00112</text></g>
<g id="k107"><path class="tp" d="M943 847H948"/><text class="bl" x="944" y="845.5">0</text><text class="lf" x="949.5" y="849.2">Biat_Biat4g03565</text></g>
<g id="k108"><path class="tp" d="M973 854.9H978"/><text class="bl" x="973" y="853.4">0.00078</text><text class="lf" x="979.5" y="857.1">Cobh_Cobh4g0841_1g00034</text></g>
<g id="k109"><path class="tp" d="M963 862.7H968"/><text class="bl" x="963" y="861.2">00.00</text><text class="lf" x="969.5" y="864.9">Cobh_Cobh1g00350</text></g>
<g id="k110"><path class="tp" d="M982 870.6H987"/><text class="bl" x="982" y="869.1">0.0078</text><text class="lf" x="988.5" y="872.8">Hetu_Hetu4g01058</text></g>
<g id="k111"><path class="tp" d="M955 878.5H960"/><text class="bl" x="955" y="877">0</text><text class="lf" x="961.5" y="880.7">Hetu_Hetu7g01082</text></g>
<g id="k112"><path class="tp" d="M991 886.3H996"/><text class="bl" x="991" y="884.8">0.00054</text><text class="lf" x="997.5" y="888.5">Hean_Hean16g00771</text></g>
<g id="k113"><path class="tp" d="M985 894.2H990"/><text class="bl" x="985" y="892.7">0.0279</text><text class="lf" x="991.5" y="896.4">Hetu_Hetu4g00948</text></g>
<g id="k114"><path class="tp" d="M947 902H952"/><text class="bl" x="947" y="900.5">0.0279</text><text class="lf" x="953.5" y="904.2">Armi_Armi8g04384</text></g>
<g id="k115"><path class="tp" d="M978 909.9H983"/><text class="bl" x="978" y="908.4">0.0285</text><text class="lf" x="984.5" y="912.1">Amar_Amar00105g00014</text></g>
<g id="k116"><path class="tp" d="M978 917.8H983"/><text class="bl" x="978" y="916.3">0.0209</text><text class="lf" x="984.5" y="920">Amar_Amar00081g00001</text></g>
<g id="k117"><path class="tp" d="M892 925.6H897"/><text class="bl" x="892" y="924.1">0.0264</text><text class="lf" x="898.5" y="927.8">Smon_Smon2g00260</text></g>
<g id="k118"><path class="tp" d="M892 933.5H897"/><text class="bl" x="892" y="932">0.0259</text><text class="lf" x="898.5" y="935.7">Smon_Smon7g00245</text></g>
<g id="k119"><path class="tp" d="M647 941.3H652"/><text class="bl" x="647" y="939.8">0.0887</text><text class="lf" x="653.5" y="943.5">Pslu_Pslu1g01841</text></g>
<g id="k120"><path class="tp" d="M689 949.2H694"/><text class="bl" x="689" y="947.7">0.00000</text><text class="lf" x="695.5" y="951.4">Heub_Heub100000011_1g00708</text></g>
<g id="k121"><path class="tp" d="M696 957H701"/><text class="bl" x="696" y="955.5">0.0474</text><text class="lf" x="702.5" y="959.2">Lomi_Lomi2g04570</text></g>
<g id="scale"><path d="M8 966H52M8 964V968M52 964V968" fill="none" stroke="#666" stroke-width="1"/><text class="bl" x="9" y="973" style="text-anchor:start">0.05</text></g>
</svg>
